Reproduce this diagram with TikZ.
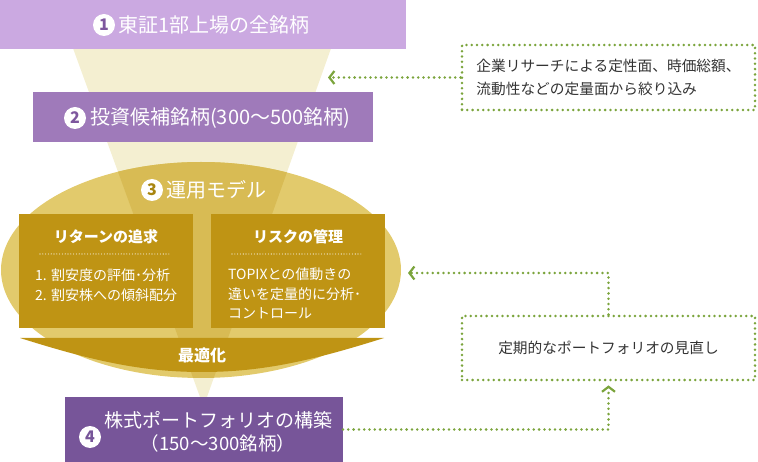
\documentclass[tikz,border=0pt]{standalone}
\usepackage{fontspec}
\setmainfont{Noto Sans CJK JP}
\usetikzlibrary{arrows.meta}
\definecolor{cA}{HTML}{CBA9E1}
\definecolor{cB}{HTML}{9F7ABA}
\definecolor{cD}{HTML}{775599}
\definecolor{cream}{HTML}{F4EFD1}
\definecolor{cE}{HTML}{E2CA6C}
\definecolor{cF}{HTML}{D8BB54}
\definecolor{cG}{HTML}{BF9414}
\definecolor{grn}{HTML}{7BA43C}
\definecolor{txt}{HTML}{333333}
\definecolor{nP}{HTML}{7E579E}
\definecolor{nG}{HTML}{A8850F}
\tikzset{
  box/.style={draw=none, inner sep=0pt, outer sep=0pt, rectangle},
  numc/.style={circle, fill=white, minimum size=22pt, inner sep=0pt, font=\fontsize{16}{16}\selectfont\bfseries},
  ttl/.style={text=white, font=\fontsize{20}{24}\selectfont, inner sep=0pt, anchor=west},
  head/.style={text=white, font=\fontsize{15}{18}\selectfont\bfseries, inner sep=0pt},
  body/.style={text=white, font=\fontsize{14}{18}\selectfont, inner sep=0pt, anchor=west},
  gdot/.style={draw=grn, line width=2.8pt, line cap=round, dash pattern=on 0pt off 5.3pt},
  garrow/.style={gdot, -{Straight Barb[length=5pt, width=13pt, line width=2.2pt]}},
  wdot/.style={draw=white, line width=1.1pt, line cap=round, dash pattern=on 0pt off 2.8pt},
  note/.style={gdot, rectangle, inner sep=0pt, text=txt, font=\fontsize{14.7}{23}\selectfont, align=left}
}
\begin{document}
\begin{tikzpicture}[x=1pt,y=-1pt]
\useasboundingbox (0,0) rectangle (758,462);
% funnel
\fill[cream] (70,40) -- (334,40) -- (207,397) -- (200,397) -- cycle;
% box 1 and 2
\node[box, fill=cA, minimum width=406pt, minimum height=49pt] (b1) at (203,24.5) {};
\node[box, fill=cB, minimum width=340pt, minimum height=50pt] (b2) at (203,117) {};
% ellipse
\fill[cE] (201,270) ellipse [x radius=200, y radius=108];
\begin{scope}
  \clip (201,270) ellipse [x radius=200, y radius=108];
  \fill[cF] (70,40) -- (334,40) -- (207,397) -- (200,397) -- cycle;
\end{scope}
% gold boxes
\node[box, fill=cG, minimum width=174pt, minimum height=114pt] (gL) at (106,271) {};
\node[box, fill=cG, minimum width=174pt, minimum height=114pt] (gR) at (298,271) {};
% optimisation shape
\fill[cG] (20,338) -- (384,338) .. controls (314,360) and (264,372) .. (202,372)
  .. controls (140,372) and (90,360) .. (20,338) -- cycle;
% box 4
\node[box, fill=cD, minimum width=278pt, minimum height=65pt] (b4) at (204,429.5) {};

% texts box 1
\node[numc, text=nP] (n1) at (104,25) {1};
\node[ttl] (t1) at (118,25) {東証1部上場の全銘柄};
% box 2
\node[numc, text=nP] (n2) at (75,118) {2};
\node[ttl] (t2) at (90,118) {投資候補銘柄(300〜500銘柄)};
% model
\node[numc, text=nG] (n3) at (152,190) {3};
\node[ttl] (t3) at (166,190) {運用モデル};
% gold box contents
\node[head] (hL) at (106,237) {リターンの追求};
\node[head] (hR) at (298,237) {リスクの管理};
\draw[wdot] (40,254) -- (170,254);
\draw[wdot] (232,254) -- (363,254);
\node[body] (l1) at (35,275) {1. 割安度の評価･分析};
\node[body] (l2) at (35,295) {2. 割安株への傾斜配分};
\node[body] (r1) at (228,274) {TOPIXとの値動きの};
\node[body] (r2) at (228,294) {違いを定量的に分析･};
\node[body] (r3) at (228,313) {コントロール};
\node[head, font=\fontsize{16}{18}\selectfont\bfseries] (opt) at (202,355) {最適化};
% box 4 texts
\node[numc, text=cD] (n4) at (90,437) {4};
\node[text=white, inner sep=0pt, font=\fontsize{19}{22}\selectfont] (t4a) at (218,420) {株式ポートフォリオの構築};
\node[text=white, inner sep=0pt, font=\fontsize{18.5}{22}\selectfont] (t4b) at (218,443) {（150〜300銘柄）};

% right notes
\node[note, minimum width=293pt, minimum height=65pt] (res) at (608.5,77.5)
  {企業リサーチによる定性面、時価総額、\\流動性などの定量面から絞り込み};
\node[note, minimum width=293pt, minimum height=64pt] (rev) at (608.5,348)
  {定期的なポートフォリオの見直し};

% connectors
\coordinate (tip1) at (328,77.5);
\coordinate (tip2) at (408,273);
\draw[garrow] (res.west) -- (tip1);
\draw[garrow] (rev.north) |- (tip2);
\draw[garrow, shorten >=4pt] (b4.east) -| (rev.south);
\end{tikzpicture}
\end{document}
